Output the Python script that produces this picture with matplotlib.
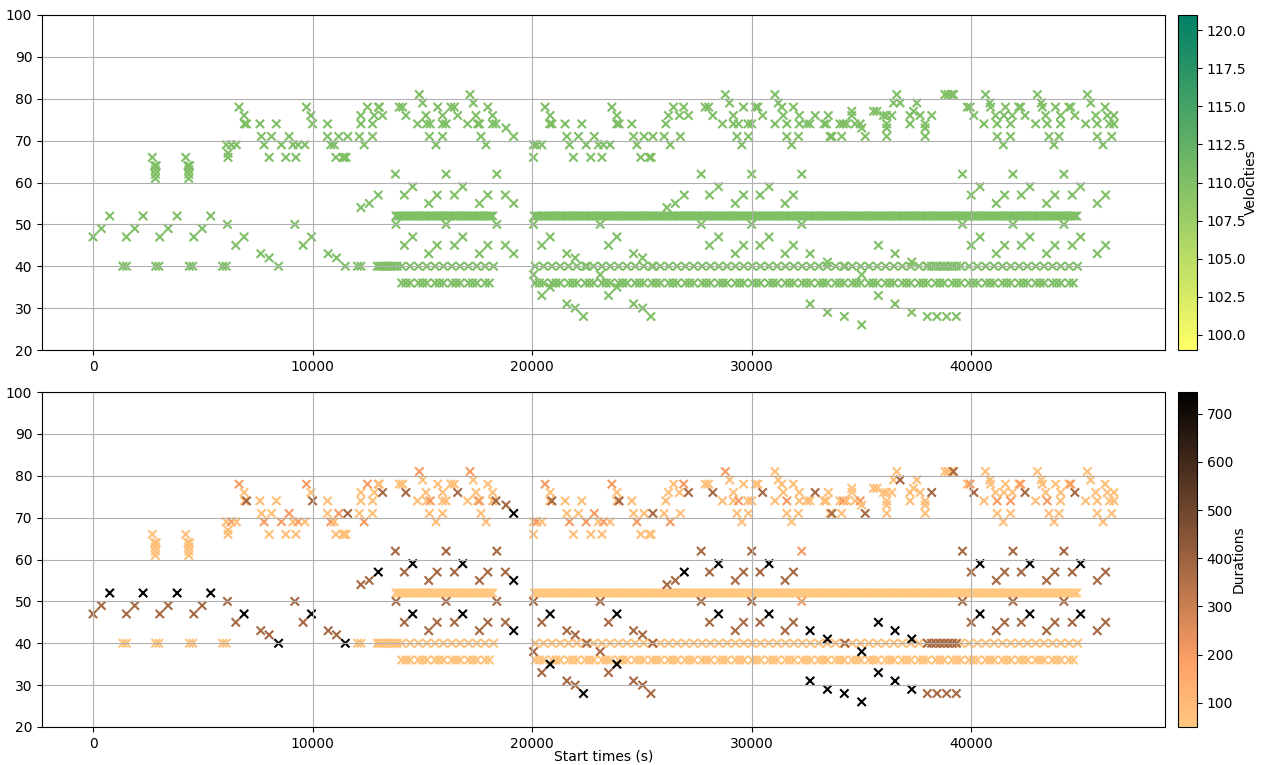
import matplotlib
matplotlib.use("Agg")
import matplotlib.pyplot as plt

# durations used for the colour classes
D_SHORT = 50     # tremolo notes (lightest)
D_ROW = 70       # repeated bass notes
D_L = 80         # light melody notes
D_M = 200        # orange
D_B = 380        # brown
D_K = 745        # black

VELOCITY = 110   # every note has the same velocity

# repeated note on pitch 52 (tremolo)
row52_times = [
    13800, 13900, 14000, 14100, 14200, 14300, 14400, 14500, 14600, 14700,
    14800, 14900, 15000, 15100, 15200, 15300, 15400, 15500, 15600, 15700,
    15800, 15900, 16000, 16100, 16200, 16300, 16400, 16500, 16600, 16700,
    16800, 16900, 17000, 17100, 17200, 17300, 17400, 17500, 17600, 17700,
    17800, 17900, 18000, 18100, 18200,
    20100, 20200, 20300, 20400, 20500, 20600, 20700, 20800, 20900, 21000,
    21100, 21200, 21300, 21400, 21500, 21600, 21700, 21800, 21900, 22000,
    22100, 22200, 22300, 22400, 22500, 22600, 22700, 22800, 22900, 23000,
    23100, 23200, 23300, 23400, 23500, 23600, 23700, 23800, 23900, 24000,
    24100, 24200, 24300, 24400, 24500, 24600, 24700, 24800, 24900, 25000,
    25100, 25200, 25300, 25400, 25500, 25600, 25700, 25800, 25900, 26000,
    26100, 26200, 26300, 26400, 26500, 26600, 26700, 26800, 26900, 27000,
    27100, 27200, 27300, 27400, 27500, 27600, 27700, 27800, 27900, 28000,
    28100, 28200, 28300, 28400, 28500, 28600, 28700, 28800, 28900, 29000,
    29100, 29200, 29300, 29400, 29500, 29600, 29700, 29800, 29900, 30000,
    30100, 30200, 30300, 30400, 30500, 30600, 30700, 30800, 30900, 31000,
    31100, 31200, 31300, 31400, 31500, 31600, 31700, 31800, 31900, 32000,
    32100, 32200, 32300, 32400, 32500, 32600, 32700, 32800, 32900, 33000,
    33100, 33200, 33300, 33400, 33500, 33600, 33700, 33800, 33900, 34000,
    34100, 34200, 34300, 34400, 34500, 34600, 34700, 34800, 34900, 35000,
    35100, 35200, 35300, 35400, 35500, 35600, 35700, 35800, 35900, 36000,
    36100, 36200, 36300, 36400, 36500, 36600, 36700, 36800, 36900, 37000,
    37100, 37200, 37300, 37400, 37500, 37600, 37700, 37800, 37900, 38000,
    38100, 38200, 38300, 38400, 38500, 38600, 38700, 38800, 38900, 39000,
    39100, 39200, 39300, 39400, 39500, 39600, 39700, 39800, 39900, 40000,
    40100, 40200, 40300, 40400, 40500, 40600, 40700, 40800, 40900, 41000,
    41100, 41200, 41300, 41400, 41500, 41600, 41700, 41800, 41900, 42000,
    42100, 42200, 42300, 42400, 42500, 42600, 42700, 42800, 42900, 43000,
    43100, 43200, 43300, 43400, 43500, 43600, 43700, 43800, 43900, 44000,
    44100, 44200, 44300, 44400, 44500, 44600, 44700, 44800,
]

# repeated notes on pitch 40
row40_times = [
    1360, 1520, 2850, 3000, 4390, 4540, 5900, 6060, 12050, 12200,
    12950, 13050, 13150, 13250, 13350, 13450, 13550, 13650, 13750, 13850,
    14060, 14440, 14820, 15200, 15580, 15960, 16340, 16720, 17100, 17480,
    17860, 18240,
    20140, 20520, 20900, 21280, 21660, 22040, 22420, 22800, 23180, 23560,
    23940, 24320, 24700, 25080, 25460, 25840, 26220, 26600, 26980, 27360,
    27740, 28120, 28500, 28880, 29260, 29640, 30020, 30400, 30780, 31160,
    31540, 31920, 32300, 32680, 33060, 33440, 33820, 34200, 34580, 34960,
    35340, 35720, 36100, 36480, 36860, 37240, 37620, 38000, 38380, 38760,
    39140, 39520, 39900, 40280, 40660, 41040, 41420, 41800, 42180, 42560,
    42940, 43320, 43700, 44080, 44460, 44840,
]

# repeated notes on pitch 36 (groups of three)
row36_times = [
    14060, 14250, 14440, 14820, 15010, 15200, 15580, 15770, 15960,
    16340, 16530, 16720, 17100, 17290, 17480, 17860, 18050,
    20140, 20330, 20520, 20900, 21090, 21280, 21660, 21850, 22040,
    22420, 22610, 22800, 23180, 23370, 23560, 23940, 24130, 24320,
    24700, 24890, 25080, 25460, 25650, 25840, 26220, 26410, 26600,
    26980, 27170, 27360, 27740, 27930, 28120, 28500, 28690, 28880,
    29260, 29450, 29640, 30020, 30210, 30400, 30780, 30970, 31160,
    31540, 31730, 31920, 32300, 32490, 32680, 33060, 33250, 33440,
    33820, 34010, 34200, 34580, 34770, 34960, 35340, 35530, 35720,
    36100, 36290, 36480, 36860, 37050, 37240, 37620, 37810, 38000,
    38380, 38570, 38760, 39140, 39330, 39520, 39900, 40090, 40280,
    40660, 40850, 41040, 41420, 41610, 41800, 42180, 42370, 42560,
    42940, 43130, 43320, 43700, 43890, 44080, 44460, 44650,
]

# (start, pitch, duration)
melody_notes = [
    (2700, 66, D_L), (2800, 64, D_L), (2880, 64, D_L), (2840, 63, D_L), (2840, 62, D_L), (2840, 61, D_L),
    (4220, 66, D_L), (4320, 64, D_L), (4400, 64, D_L), (4360, 63, D_L), (4360, 62, D_L), (4360, 61, D_L),
    (6070, 69, D_L), (6150, 67, D_L), (6150, 66, D_L), (6300, 69, D_M), (6530, 69, D_L),
    (6650, 78, D_M), (6880, 76, D_L), (6900, 74, D_L), (6990, 74, D_B),
    (7600, 74, D_L), (7670, 71, D_L), (7790, 69, D_M), (8020, 66, D_L), (8130, 71, D_L), (8350, 74, D_L),
    (8580, 69, D_M), (8780, 66, D_L), (8930, 71, D_M), (9110, 69, D_L), (9240, 66, D_L), (9340, 69, D_M),
    (9650, 69, D_L), (9720, 78, D_M), (9920, 76, D_L), (10000, 74, D_B),
    (10680, 74, D_L), (10680, 71, D_L), (10830, 69, D_M), (10990, 69, D_L), (11060, 66, D_L), (11190, 71, D_M),
    (11370, 66, D_L), (11440, 66, D_L), (11520, 66, D_L), (11600, 71, D_B),
    (12130, 71, D_L), (12200, 74, D_L), (12200, 76, D_L), (12350, 69, D_M), (12500, 78, D_M), (12730, 74, D_L),
    (12730, 71, D_L), (12810, 76, D_L), (13000, 78, D_M), (13040, 78, D_L), (13190, 76, D_B),
    (13950, 78, D_L), (14100, 78, D_L), (14250, 76, D_B), (14780, 74, D_L), (14860, 81, D_M), (15010, 79, D_L),
    (15160, 76, D_L), (15200, 74, D_L), (15320, 71, D_L), (15360, 74, D_M), (15620, 69, D_L), (15700, 78, D_L),
    (15920, 76, D_L), (15920, 74, D_L), (15920, 71, D_L), (16080, 74, D_L), (16300, 78, D_L), (16460, 78, D_L),
    (16610, 76, D_B),
    (17060, 74, D_L), (17170, 81, D_M), (17320, 79, D_L), (17440, 76, D_L), (17520, 74, D_L), (17600, 74, D_M),
    (17670, 71, D_L), (17900, 69, D_L), (17980, 78, D_L), (18200, 76, D_L), (18200, 74, D_L), (18350, 74, D_B),
    (18810, 73, D_B), (19160, 71, D_K),
    (20060, 69, D_L), (20060, 66, D_L), (20210, 69, D_M), (20440, 69, D_L), (20590, 78, D_M), (20820, 76, D_L),
    (20800, 74, D_L), (20900, 74, D_B),
    (21500, 74, D_L), (21580, 71, D_L), (21700, 69, D_M), (21880, 66, D_L), (22110, 71, D_L), (22260, 74, D_L),
    (22460, 69, D_M), (22670, 66, D_L), (22830, 71, D_M), (23020, 69, D_L), (23180, 66, D_L), (23250, 69, D_M),
    (23550, 69, D_L), (23630, 78, D_M), (23860, 76, D_L), (23860, 74, D_L), (23960, 74, D_B),
    (24540, 74, D_L), (24620, 71, D_L), (24770, 69, D_M), (24950, 66, D_L), (25100, 71, D_L), (25340, 66, D_L),
    (25420, 66, D_L), (25500, 71, D_B),
    (26010, 71, D_L), (26090, 74, D_L), (26210, 76, D_L), (26290, 69, D_M), (26440, 78, D_L), (26710, 76, D_L),
    (26750, 71, D_L), (26900, 78, D_M), (27120, 76, D_B),
    (27880, 78, D_L), (28040, 78, D_L), (28230, 76, D_B), (28670, 74, D_L), (28800, 81, D_M), (28990, 79, D_L),
    (29170, 76, D_L), (29170, 74, D_L), (29330, 71, D_L), (29400, 74, D_M), (29550, 69, D_L), (29630, 78, D_L),
    (29830, 74, D_L), (29850, 71, D_L), (30000, 74, D_L), (30180, 78, D_L), (30280, 78, D_L), (30500, 76, D_B),
    (31060, 81, D_L), (31060, 74, D_L), (31210, 79, D_L), (31370, 78, D_L), (31440, 76, D_L), (31600, 74, D_M),
    (31600, 71, D_L), (31820, 69, D_L), (31900, 78, D_L), (32170, 76, D_L), (32170, 74, D_L), (32130, 71, D_L),
    (32500, 74, D_L), (32650, 74, D_L), (32890, 76, D_B),
    (33300, 74, D_L), (33400, 74, D_L), (33490, 76, D_L), (33570, 71, D_L), (33650, 71, D_B), (34020, 74, D_L),
    (34100, 71, D_L), (34170, 74, D_M), (34320, 74, D_L), (34560, 76, D_L), (34560, 77, D_L), (34710, 74, D_L),
    (34940, 74, D_M), (35010, 73, D_L), (35170, 71, D_B),
    (35550, 77, D_L), (35700, 77, D_L), (36000, 76, D_L), (36150, 76, D_L), (36150, 74, D_L), (36150, 73, D_L),
    (36150, 71, D_L), (36380, 76, D_L), (36460, 79, D_L), (36610, 81, D_L), (36760, 79, D_B),
    (37210, 76, D_L), (37210, 74, D_L), (37370, 77, D_L), (37520, 79, D_L), (37670, 76, D_L), (37900, 74, D_L),
    (37900, 73, D_L), (37900, 71, D_L), (38200, 76, D_B),
    (38800, 81, D_L), (38950, 81, D_L), (39100, 81, D_L), (39190, 81, D_B),
    (39820, 78, D_L), (39950, 78, D_M), (40120, 76, D_B),
    (40580, 74, D_L), (40650, 81, D_L), (40850, 79, D_L), (40880, 78, D_L), (41110, 76, D_L), (41180, 74, D_M),
    (41180, 71, D_L), (41460, 69, D_L), (41490, 76, D_L), (41560, 78, D_L), (41790, 74, D_M), (41790, 71, D_L),
    (41870, 76, D_L), (42170, 78, D_L), (42250, 78, D_M), (42450, 76, D_B),
    (42930, 74, D_L), (43010, 81, D_L), (43190, 79, D_L), (43240, 78, D_L), (43390, 76, D_L), (43460, 74, D_M),
    (43540, 71, D_L), (43770, 69, D_L), (43840, 78, D_L), (44000, 71, D_L), (44070, 76, D_L), (44070, 74, D_L),
    (44450, 78, D_L), (44530, 78, D_M), (44720, 76, D_B),
    (45210, 74, D_L), (45290, 81, D_L), (45440, 79, D_L), (45670, 76, D_L), (45740, 74, D_L), (45740, 71, D_L),
    (46000, 69, D_L), (46100, 78, D_L), (46200, 76, D_L), (46300, 74, D_L), (46400, 71, D_L), (46500, 76, D_L),
    (46500, 74, D_L),
]

bass_notes = [
    (0, 47, D_B), (380, 49, D_B), (760, 52, D_K),
    (1520, 47, D_B), (1900, 49, D_B), (2280, 52, D_K),
    (3040, 47, D_B), (3420, 49, D_B), (3830, 52, D_K),
    (4590, 47, D_B), (4970, 49, D_B), (5360, 52, D_K),
    (6120, 50, D_B), (6500, 45, D_B), (6880, 47, D_K),
    (7640, 43, D_B), (8020, 42, D_B), (8450, 40, D_K),
    (9190, 50, D_B), (9570, 45, D_B), (9950, 47, D_K),
    (10710, 43, D_B), (11090, 42, D_B), (11490, 40, D_K),
    (12200, 54, D_B), (12580, 55, D_B), (12990, 57, D_K),
    (20060, 50, D_B), (20060, 38, D_B), (20440, 45, D_B), (20820, 47, D_K), (20440, 33, D_B), (20820, 35, D_K),
    (21580, 43, D_B), (21960, 42, D_B), (22490, 40, D_B), (21580, 31, D_B), (21960, 30, D_B), (22340, 28, D_K),
    (23100, 50, D_B), (23100, 38, D_B), (23480, 45, D_B), (23860, 47, D_K), (23480, 33, D_B), (23860, 35, D_K),
    (24620, 43, D_B), (25030, 42, D_B), (25500, 40, D_B), (24620, 31, D_B), (25030, 30, D_B), (25410, 28, D_B),
    (26140, 54, D_B), (26520, 55, D_B), (26930, 57, D_K),
    (32660, 43, D_K), (33450, 41, D_K), (34250, 40, D_B), (35010, 38, D_K), (35770, 45, D_K), (36530, 43, D_K),
    (37290, 41, D_K),
    (32660, 31, D_K), (33450, 29, D_K), (34220, 28, D_K), (35010, 26, D_K), (35770, 33, D_K), (36530, 31, D_K),
    (37290, 29, D_K),
    (38000, 40, D_B), (38190, 40, D_B), (38380, 40, D_B), (38570, 40, D_B), (38760, 40, D_B), (38950, 40, D_B),
    (39140, 40, D_B), (39330, 40, D_B),
    (38000, 28, D_B), (38440, 28, D_B), (38880, 28, D_B), (39320, 28, D_B),
]

# two-voice accompaniment (upper line / lower line)
inner_notes = [
    (13770, 62, D_B), (13800, 50, D_B),
    (14180, 57, D_B), (14560, 59, D_K), (14180, 45, D_B), (14560, 47, D_K),
    (15290, 55, D_B), (15670, 57, D_B), (15290, 43, D_B), (15670, 45, D_B),
    (16080, 62, D_B), (16080, 50, D_B),
    (16460, 57, D_B), (16840, 59, D_K), (16460, 45, D_B), (16840, 47, D_K),
    (17600, 55, D_B), (17980, 57, D_B), (17600, 43, D_B), (17980, 45, D_B),
    (18390, 62, D_B), (18390, 50, D_B),
    (18780, 57, D_B), (19160, 55, D_K), (18780, 45, D_B), (19160, 43, D_K),
    (27700, 62, D_B), (27700, 50, D_B),
    (28080, 57, D_B), (28490, 59, D_K), (28080, 45, D_B), (28490, 47, D_K),
    (29250, 55, D_B), (29630, 57, D_B), (29250, 43, D_B), (29630, 45, D_B),
    (30000, 62, D_B), (30000, 50, D_B),
    (30380, 57, D_B), (30790, 59, D_K), (30380, 45, D_B), (30790, 47, D_K),
    (31520, 55, D_B), (31900, 57, D_B), (31520, 43, D_B), (31900, 45, D_B),
    (32280, 62, D_M), (32280, 50, D_M),
    (39600, 62, D_B), (39600, 50, D_B),
    (40000, 57, D_B), (40400, 59, D_K), (40000, 45, D_B), (40400, 47, D_K),
    (41140, 55, D_B), (41520, 57, D_B), (41140, 43, D_B), (41520, 45, D_B),
    (41900, 62, D_B), (41900, 50, D_B),
    (42280, 57, D_B), (42670, 59, D_K), (42280, 45, D_B), (42670, 47, D_K),
    (43430, 55, D_B), (43810, 57, D_B), (43430, 43, D_B), (43810, 45, D_B),
    (44220, 62, D_B), (44220, 50, D_B),
    (44600, 57, D_B), (44980, 59, D_K), (44600, 45, D_B), (44980, 47, D_K),
    (45740, 55, D_B), (46120, 57, D_B), (45740, 43, D_B), (46120, 45, D_B),
]

starts, pitches, durations = [], [], []
for t in row52_times:
    starts.append(t); pitches.append(52); durations.append(D_SHORT)
for t in row40_times:
    starts.append(t); pitches.append(40); durations.append(D_ROW)
for t in row36_times:
    starts.append(t); pitches.append(36); durations.append(D_ROW)
for notes in (melody_notes, bass_notes, inner_notes):
    for t, p, d in notes:
        starts.append(t); pitches.append(p); durations.append(d)
velocities = [VELOCITY] * len(starts)

fig = plt.figure(figsize=(12.62, 7.65), dpi=100)
W, H = 1262, 765
ax1 = fig.add_axes([42 / W, (H - 350) / H, 1123 / W, 335 / H])
ax2 = fig.add_axes([42 / W, (H - 727) / H, 1123 / W, 335 / H])
cax1 = fig.add_axes([1178 / W, (H - 350) / H, 19 / W, 335 / H])
cax2 = fig.add_axes([1178 / W, (H - 727) / H, 19 / W, 335 / H])

sc1 = ax1.scatter(starts, pitches, c=velocities, cmap="summer_r", vmin=99, vmax=121, marker="x")
sc2 = ax2.scatter(starts, pitches, c=durations, cmap="copper_r", marker="x")

cb1 = fig.colorbar(sc1, cax=cax1)
cb1.set_label("Velocities", labelpad=-2)
cb2 = fig.colorbar(sc2, cax=cax2)
cb2.set_label("Durations", labelpad=-1)

for ax in (ax1, ax2):
    ax.set_ylim(20, 100)
    ax.grid(True)
ax2.set_xlabel("Start times (s)", labelpad=-1)

fig.savefig("out.png", dpi=100)
